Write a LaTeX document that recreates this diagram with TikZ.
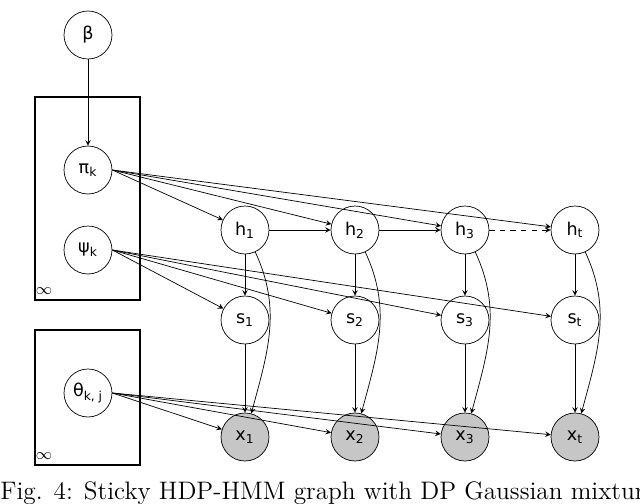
\documentclass[tikz,border=0pt]{standalone}
\usepackage{fontspec}
\setsansfont{DejaVu Sans}
\usepackage{tikz}
\begin{document}
\begin{tikzpicture}[x=0.02cm,y=-0.02cm,>=stealth,
  var/.style={circle,draw,minimum size=0.96cm,inner sep=0pt,font=\sffamily},
  obs/.style={var,fill=gray!45},
  plate/.style={draw,semithick}]
  \useasboundingbox (0,0) rectangle (640,504);
  % parameters
  \node[var] (beta) at (88,35) {β};
  \node[var] (pi) at (88,170) {π\textsubscript{k}};
  \node[var] (psi) at (88,250) {ψ\textsubscript{k}};
  \node[var] (theta) at (88,393) {θ\textsubscript{k, j}};
  % plates
  \draw[plate] (35,97) rectangle (140,300);
  \draw[plate] (35,330) rectangle (140,465);
  \node[font=\small] at (44,291) {$\infty$};
  \node[font=\small] at (44,456) {$\infty$};
  \draw[->] (beta) -- (pi);
  % chain
  \foreach \i/\x/\t in {1/245/1,2/355/2,3/465/3,4/575/t} {
    \node[var] (h\i) at (\x,230) {h\textsubscript{\t}};
    \node[var] (s\i) at (\x,320) {s\textsubscript{\t}};
    \node[obs] (x\i) at (\x,437) {x\textsubscript{\t}};
    \draw[->] (pi.east) -- (h\i);
    \draw[->] (psi.east) -- (s\i);
    \draw[->] (theta.east) -- (x\i);
    \draw[->] (h\i) -- (s\i);
    \draw[->] (s\i) -- (x\i);
    \draw[->] (h\i) to[out=-65,in=75] (x\i);
  }
  \draw[->] (h1) -- (h2);
  \draw[->] (h2) -- (h3);
  \draw[->,dashed] (h3) -- (h4);
  % caption
  \node[anchor=west,font=\Large,inner sep=0pt] (cap) at (0,493) {Fig. 4: Sticky HDP-HMM graph with DP Gaussian mixture};
\end{tikzpicture}
\end{document}
